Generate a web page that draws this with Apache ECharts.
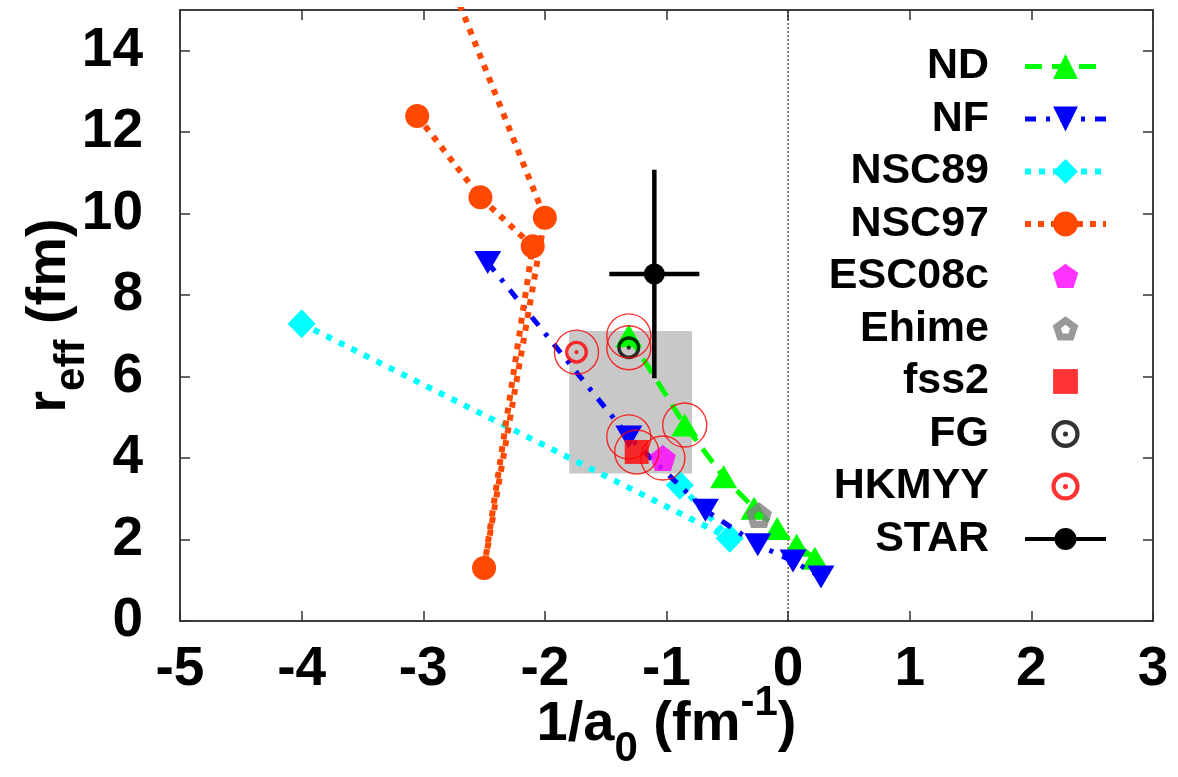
<!DOCTYPE html>
<html>
<head>
<meta charset="utf-8">
<script src="https://cdn.jsdelivr.net/npm/echarts@6/dist/echarts.min.js"></script>
<style>
  html, body { margin: 0; padding: 0; background: #fff; }
  #chart { width: 1178px; height: 777px; }
</style>
</head>
<body>
<div id="chart"></div>
<script>
// Axis ranges (1/a0 in fm^-1, r_eff in fm)
const xRange = [-5, 3];
const xStep = 1;
const yRange = [0, 15];
const yStep = 2;

// Model predictions [1/a0, r_eff]
const ndPoints    = [[-1.31, 7.0], [-0.85, 4.81], [-0.53, 3.54], [-0.28, 2.77], [-0.09, 2.27], [0.07, 1.86], [0.22, 1.54]];
const nfPoints    = [[-2.47, 8.8], [-1.31, 4.52], [-0.68, 2.72], [-0.25, 1.87], [0.04, 1.47], [0.27, 1.08]];
const nsc89Points = [[-0.89, 3.33], [-0.48, 2.03], [-4.0, 7.3]];
const nsc97Points = [[-3.05, 12.4], [-2.53, 10.4], [-2.1, 9.2], [-2.5, 1.3], [-2.0, 9.9], [-2.95, 17.0]];
const esc08cPoint = [[-1.03, 4.0]];
const ehimePoint  = [[-0.24, 2.6]];
const fss2Point   = [[-1.245, 4.15]];
const fgPoint     = [[-1.31, 6.71]];
const hkmyyPoint  = [[-1.74, 6.6]];

// STAR measurement [1/a0, r_eff, err(1/a0), err(r_eff)]
const starPoint = [[-1.10, 8.52, 0.37, 2.56]];

// Models singled out with a ring
const ringedModels = [[-1.74, 6.6], [-1.31, 7.0], [-1.31, 6.71], [-0.85, 4.81], [-1.31, 4.52], [-1.245, 4.15], [-1.03, 4.0]];

// Shaded band [x0, y0, x1, y1]
const shadedBand = [[-1.8, 3.62, -0.79, 7.12]];

// Reference line at 1/a0 = 0 [x, yFrom, yTo]
const zeroLine = [[0, 0, 15]];

const FONT = "'Liberation Sans', Arial, Helvetica, sans-serif";

// Marker shapes
const TRI_DOWN = 'path://M0,0 L24,0 L12,21 Z';
const PENTAGON = 'path://M0,-10 L9.511,-3.09 L5.878,8.09 L-5.878,8.09 L-9.511,-3.09 Z';
const PENT_RING = 'path://M0,-10 L9.511,-3.09 L5.878,8.09 L-5.878,8.09 L-9.511,-3.09 Z ' +
                  'M0,-3.6 L-3.424,-1.112 L-2.116,2.912 L2.116,2.912 L3.424,-1.112 Z';
const RING_DOT = 'path://M10,0 A10,10 0 1,1 -10,0 A10,10 0 1,1 10,0 Z ' +
                 'M7,0 A7,7 0 1,0 -7,0 A7,7 0 1,0 7,0 Z ' +
                 'M1.8,0 A1.8,1.8 0 1,1 -1.8,0 A1.8,1.8 0 1,1 1.8,0 Z';

// Legend icons (padded so they sit at the same size as the plotted markers)
const LEG_PENTAGON = 'path://M-11.5,-12 M11.5,11 M0,-10 L9.511,-3.09 L5.878,8.09 L-5.878,8.09 L-9.511,-3.09 Z';
const LEG_PENT_RING = 'path://M-11.5,-12 M11.5,11 M0,-10 L9.511,-3.09 L5.878,8.09 L-5.878,8.09 L-9.511,-3.09 Z ' +
                      'M0,-3.6 L-3.424,-1.112 L-2.116,2.912 L2.116,2.912 L3.424,-1.112 Z';
const LEG_SQUARE = 'path://M-15,-15 M15,15 M-12,-12 L12,-12 L12,12 L-12,12 Z';
const LEG_RING_DOT = 'path://M-11,-11 M11,11 M10,0 A10,10 0 1,1 -10,0 A10,10 0 1,1 10,0 Z ' +
                     'M7,0 A7,7 0 1,0 -7,0 A7,7 0 1,0 7,0 Z ' +
                     'M1.8,0 A1.8,1.8 0 1,1 -1.8,0 A1.8,1.8 0 1,1 1.8,0 Z';
const LEG_STAR = 'path://M0,0 M81,30 M0,13 L81,13 L81,17 L0,17 Z ' +
                 'M51.5,15 A11,11 0 1,1 29.5,15 A11,11 0 1,1 51.5,15 Z';

const labelFont = { color: '#000', fontSize: 55, fontWeight: 'bold', fontFamily: FONT };
const axisLineStyle = { color: '#333', width: 1.5 };

const xTitleRich = {
  n: { fontSize: 56, fontWeight: 'bold', fontFamily: FONT, color: '#000', lineHeight: 56, verticalAlign: 'middle' },
  s: { fontSize: 42, fontWeight: 'bold', fontFamily: FONT, color: '#000', lineHeight: 42, padding: [48, 0, 0, 0], verticalAlign: 'middle' },
  p: { fontSize: 42, fontWeight: 'bold', fontFamily: FONT, color: '#000', lineHeight: 42, padding: [0, 0, 44, 0], verticalAlign: 'middle' }
};
const yTitleRich = {
  n: { fontSize: 56, fontWeight: 'bold', fontFamily: FONT, color: '#000', lineHeight: 56, verticalAlign: 'middle' },
  s: { fontSize: 42, fontWeight: 'bold', fontFamily: FONT, color: '#000', lineHeight: 42, padding: [44, 0, 0, 0], verticalAlign: 'middle' }
};

function mirrorAxis(position, range, step) {
  return {
    type: 'value', position: position, min: range[0], max: range[1], interval: step,
    axisLine: { show: true, onZero: false, lineStyle: axisLineStyle },
    axisTick: { show: true, inside: true, length: 10, lineStyle: axisLineStyle },
    axisLabel: { show: false },
    splitLine: { show: false }
  };
}

const chart = echarts.init(document.getElementById('chart'), null, { renderer: 'canvas' });

chart.setOption({
  animation: false,
  backgroundColor: '#fff',
  grid: {
    left: 180, right: 25, top: 10, bottom: 156,
    containLabel: false, outerBoundsMode: 'none',
    show: true, borderColor: '#333', borderWidth: 1.5
  },
  legend: {
    orient: 'vertical', align: 'right', right: 69, top: 45, padding: 0,
    itemWidth: 81, itemHeight: 31, itemGap: 9.5,
    selectedMode: false,
    textStyle: { fontSize: 43, fontWeight: 'bold', fontFamily: FONT, color: '#000', lineHeight: 31, padding: [0, 31, 0, 0] },
    data: [
      { name: 'ND', lineStyle: { width: 5, type: [17, 10], dashOffset: 0 } },
      { name: 'NF', lineStyle: { width: 5, type: [11, 10, 4, 10] } },
      { name: 'NSC89', lineStyle: { width: 6, type: [6, 8] } },
      { name: 'NSC97', lineStyle: { width: 6, type: [6, 7] } },
      { name: 'ESC08c', icon: LEG_PENTAGON },
      { name: 'Ehime', icon: LEG_PENT_RING },
      { name: 'fss2', icon: LEG_SQUARE },
      { name: 'FG', icon: LEG_RING_DOT },
      { name: 'HKMYY', icon: LEG_RING_DOT },
      { name: 'STAR', icon: LEG_STAR }
    ]
  },
  xAxis: [
    {
      type: 'value', position: 'bottom', min: xRange[0], max: xRange[1], interval: xStep,
      axisLine: { show: true, onZero: false, lineStyle: axisLineStyle },
      axisTick: { show: true, inside: true, length: 10, lineStyle: axisLineStyle },
      axisLabel: Object.assign({ margin: 21 }, labelFont),
      splitLine: { show: false },
      name: '{n|1/a}{s|0}{n| (fm}{p|-1}{n|)}',
      nameLocation: 'middle', nameGap: 76, nameMoveOverlap: false,
      nameTextStyle: { rich: xTitleRich }
    },
    mirrorAxis('top', xRange, xStep)
  ],
  yAxis: [
    {
      type: 'value', position: 'left', min: yRange[0], max: yRange[1], interval: yStep,
      axisLine: { show: true, onZero: false, lineStyle: axisLineStyle },
      axisTick: { show: true, inside: true, length: 10, lineStyle: axisLineStyle },
      axisLabel: Object.assign({ margin: 37, showMaxLabel: false }, labelFont),
      splitLine: { show: false },
      name: '{n|r}{s|eff}{n| (fm)}',
      nameLocation: 'middle', nameRotate: 90, nameGap: 102, nameMoveOverlap: false,
      nameTextStyle: { rich: yTitleRich }
    },
    mirrorAxis('right', yRange, yStep)
  ],
  series: [
    {
      name: 'shaded band', type: 'custom', z: 1, silent: true,
      data: shadedBand, encode: { x: [0, 2], y: [1, 3] },
      renderItem: function (params, api) {
        const p0 = api.coord([api.value(0), api.value(3)]);
        const p1 = api.coord([api.value(2), api.value(1)]);
        return { type: 'rect', shape: { x: p0[0], y: p0[1], width: p1[0] - p0[0], height: p1[1] - p0[1] }, style: { fill: '#c8c8c8' } };
      }
    },
    {
      name: 'zero', type: 'custom', z: 1, silent: true,
      data: zeroLine, encode: { x: 0, y: [1, 2] },
      renderItem: function (params, api) {
        const a = api.coord([api.value(0), api.value(1)]);
        const b = api.coord([api.value(0), api.value(2)]);
        return { type: 'line', shape: { x1: a[0], y1: a[1], x2: b[0], y2: b[1] }, style: { stroke: '#111', lineWidth: 1, lineDash: [2, 2] } };
      }
    },
    {
      name: 'ND', type: 'line', z: 3, data: ndPoints,
      symbol: 'triangle', symbolSize: [27, 23], showAllSymbol: true,
      lineStyle: { color: '#00ff00', width: 5, type: [17, 10] },
      itemStyle: { color: '#00ff00' }
    },
    {
      name: 'NSC89', type: 'line', z: 3, data: nsc89Points,
      symbol: 'diamond', symbolSize: [28, 29], showAllSymbol: true,
      lineStyle: { color: '#00ffff', width: 6, type: [6, 8] },
      itemStyle: { color: '#00ffff' }
    },
    {
      name: 'NF', type: 'line', z: 4, data: nfPoints,
      symbol: TRI_DOWN, symbolSize: [27, 23], showAllSymbol: true,
      lineStyle: { color: '#0000ff', width: 5, type: [11, 10, 4, 10] },
      itemStyle: { color: '#0000ff' }
    },
    {
      name: 'NSC97', type: 'line', z: 5, data: nsc97Points, clip: true,
      symbol: 'circle', symbolSize: 24, showAllSymbol: true,
      lineStyle: { color: '#ff4800', width: 6, type: [6, 7] },
      itemStyle: { color: '#ff4800' }
    },
    {
      name: 'ESC08c', type: 'scatter', z: 6, data: esc08cPoint,
      symbol: PENTAGON, symbolSize: 26, itemStyle: { color: '#ff00ff' }
    },
    {
      name: 'Ehime', type: 'scatter', z: 6, data: ehimePoint,
      symbol: PENT_RING, symbolSize: 26, itemStyle: { color: '#808080' }
    },
    {
      name: 'fss2', type: 'scatter', z: 6, data: fss2Point,
      symbol: 'rect', symbolSize: 24, itemStyle: { color: '#ff0000' }
    },
    {
      name: 'FG', type: 'scatter', z: 6, data: fgPoint,
      symbol: RING_DOT, symbolSize: 23, itemStyle: { color: '#000' }
    },
    {
      name: 'HKMYY', type: 'scatter', z: 6, data: hkmyyPoint,
      symbol: RING_DOT, symbolSize: 23, itemStyle: { color: '#ff0000' }
    },
    {
      name: 'STAR', type: 'custom', z: 7, data: starPoint,
      encode: { x: 0, y: 1 }, itemStyle: { color: '#000' },
      renderItem: function (params, api) {
        const x = api.value(0), y = api.value(1), ex = api.value(2), ey = api.value(3);
        const c = api.coord([x, y]);
        const l = api.coord([x - ex, y]), r = api.coord([x + ex, y]);
        const t = api.coord([x, y + ey]), b = api.coord([x, y - ey]);
        const st = { stroke: '#000', lineWidth: 4.5 };
        return {
          type: 'group',
          children: [
            { type: 'line', shape: { x1: l[0], y1: l[1], x2: r[0], y2: r[1] }, style: st },
            { type: 'line', shape: { x1: t[0], y1: t[1], x2: b[0], y2: b[1] }, style: st },
            { type: 'circle', shape: { cx: c[0], cy: c[1], r: 10.5 }, style: { fill: '#000' } }
          ]
        };
      }
    },
    {
      name: 'ringed', type: 'scatter', z: 8, data: ringedModels, silent: true,
      symbol: 'circle', symbolSize: 44,
      itemStyle: { color: 'rgba(0,0,0,0)', borderColor: '#ff0000', borderWidth: 1.4 }
    }
  ]
});
</script>
</body>
</html>
